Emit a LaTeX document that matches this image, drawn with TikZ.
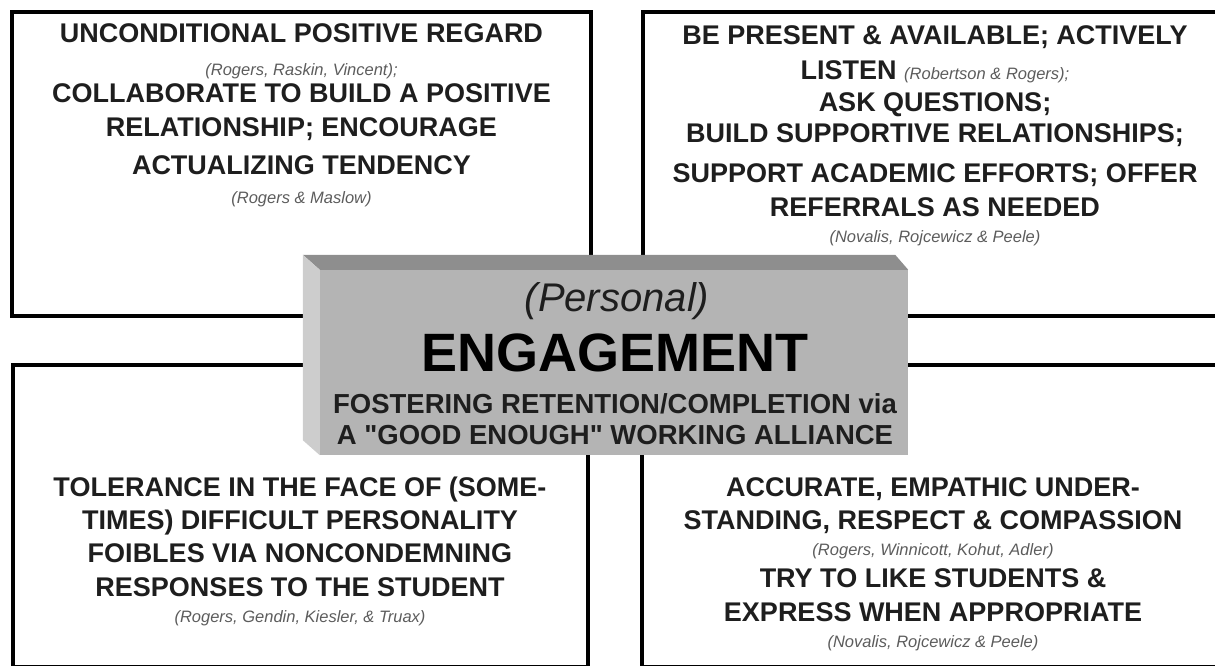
\documentclass[tikz,border=0pt]{standalone}
\usepackage{fontspec}
\setmainfont{Liberation Sans}
\usepackage{tikz}
\usepackage{xcolor}
\definecolor{tinta}{HTML}{1E1E1E}
\definecolor{gris}{HTML}{5C5C5C}
\definecolor{frente}{HTML}{B4B4B4}
\definecolor{tapa}{HTML}{8E8E8E}
\definecolor{lado}{HTML}{CDCDCD}
\newcommand{\autores}[1]{{\fontsize{16.5}{19}\selectfont\mdseries\itshape\color{gris}#1}}

\begin{document}
\begin{tikzpicture}[x=1pt, y=-1pt,
  caja/.style={line width=4.5pt},
  texto/.style={align=center, inner sep=0pt, anchor=north, text=tinta,
    font=\fontsize{27}{34}\selectfont\bfseries},
  titulo/.style={anchor=base, inner sep=0pt, text=tinta}]
\useasboundingbox (0,0) rectangle (1215,666);

% Cajas
\draw[caja] (12,12) rectangle (591,316);
\draw[caja] (643,12) rectangle (1225,316);
\draw[caja] (13,365) rectangle (588,667.5);
\draw[caja] (642,365) rectangle (1225,667.5);

% Textos de las cajas
\node[texto] (regard) at (301.5,23) {UNCONDITIONAL POSITIVE REGARD\\[-1pt]
  \autores{(Rogers, Raskin, Vincent);}\\[-7pt]
  COLLABORATE TO BUILD A POSITIVE\\
  RELATIONSHIP; ENCOURAGE\\[4pt]
  ACTUALIZING TENDENCY\\[-5pt]
  \autores{(Rogers \& Maslow)}};
\node[texto] (listen) at (935,25) {BE PRESENT \& AVAILABLE; ACTIVELY\\[1pt]
  LISTEN \autores{(Robertson \& Rogers);}\\[-2pt]
  ASK QUESTIONS;\\[-3pt]
  BUILD SUPPORTIVE RELATIONSHIPS;\\[6pt]
  SUPPORT ACADEMIC EFFORTS; OFFER\\
  REFERRALS AS NEEDED\\[-8pt]
  \autores{(Novalis, Rojcewicz \& Peele)}};
\node[texto] (tolerance) at (300,477) {TOLERANCE IN THE FACE OF (SOME-\\[-1pt]
  TIMES) DIFFICULT PERSONALITY\\[-1pt]
  FOIBLES VIA NONCONDEMNING\\
  RESPONSES TO THE STUDENT\\[-8pt]
  \autores{(Rogers, Gendin, Kiesler, \& Truax)}};
\node[texto] (empathy) at (933,477) {ACCURATE, EMPATHIC UNDER-\\[-1pt]
  STANDING, RESPECT \& COMPASSION\\[-8pt]
  \autores{(Rogers, Winnicott, Kohut, Adler)}\\[-2pt]
  TRY TO LIKE STUDENTS \&\\
  EXPRESS WHEN APPROPRIATE\\[-8pt]
  \autores{(Novalis, Rojcewicz \& Peele)}};

% Bloque central
\node[fill=frente, minimum width=588pt, minimum height=185pt, inner sep=0pt] (bloque) at (614,362.5) {};
\fill[tapa] (bloque.north west) -- ++(-17,-15) -- ([xshift=-13pt,yshift=15pt]bloque.north east) -- (bloque.north east) -- cycle;
\fill[lado] (bloque.north west) -- ++(-17,-15) -- ([xshift=-17pt,yshift=15pt]bloque.south west) -- (bloque.south west) -- cycle;
\node[titulo, font=\fontsize{40}{48}\selectfont\itshape] (personal) at (617,311) {(Personal)};
\node[titulo, font=\fontsize{54}{60}\selectfont\bfseries, text=black] (engage) at (615,371) {ENGAGEMENT};
\node[titulo, font=\fontsize{27.5}{31}\selectfont\bfseries] (foster) at (615,413) {FOSTERING RETENTION/COMPLETION via};
\node[titulo, font=\fontsize{27.5}{31}\selectfont\bfseries] (alliance) at (615,444) {A \textquotedbl GOOD ENOUGH\textquotedbl{} WORKING ALLIANCE};
\end{tikzpicture}
\end{document}
